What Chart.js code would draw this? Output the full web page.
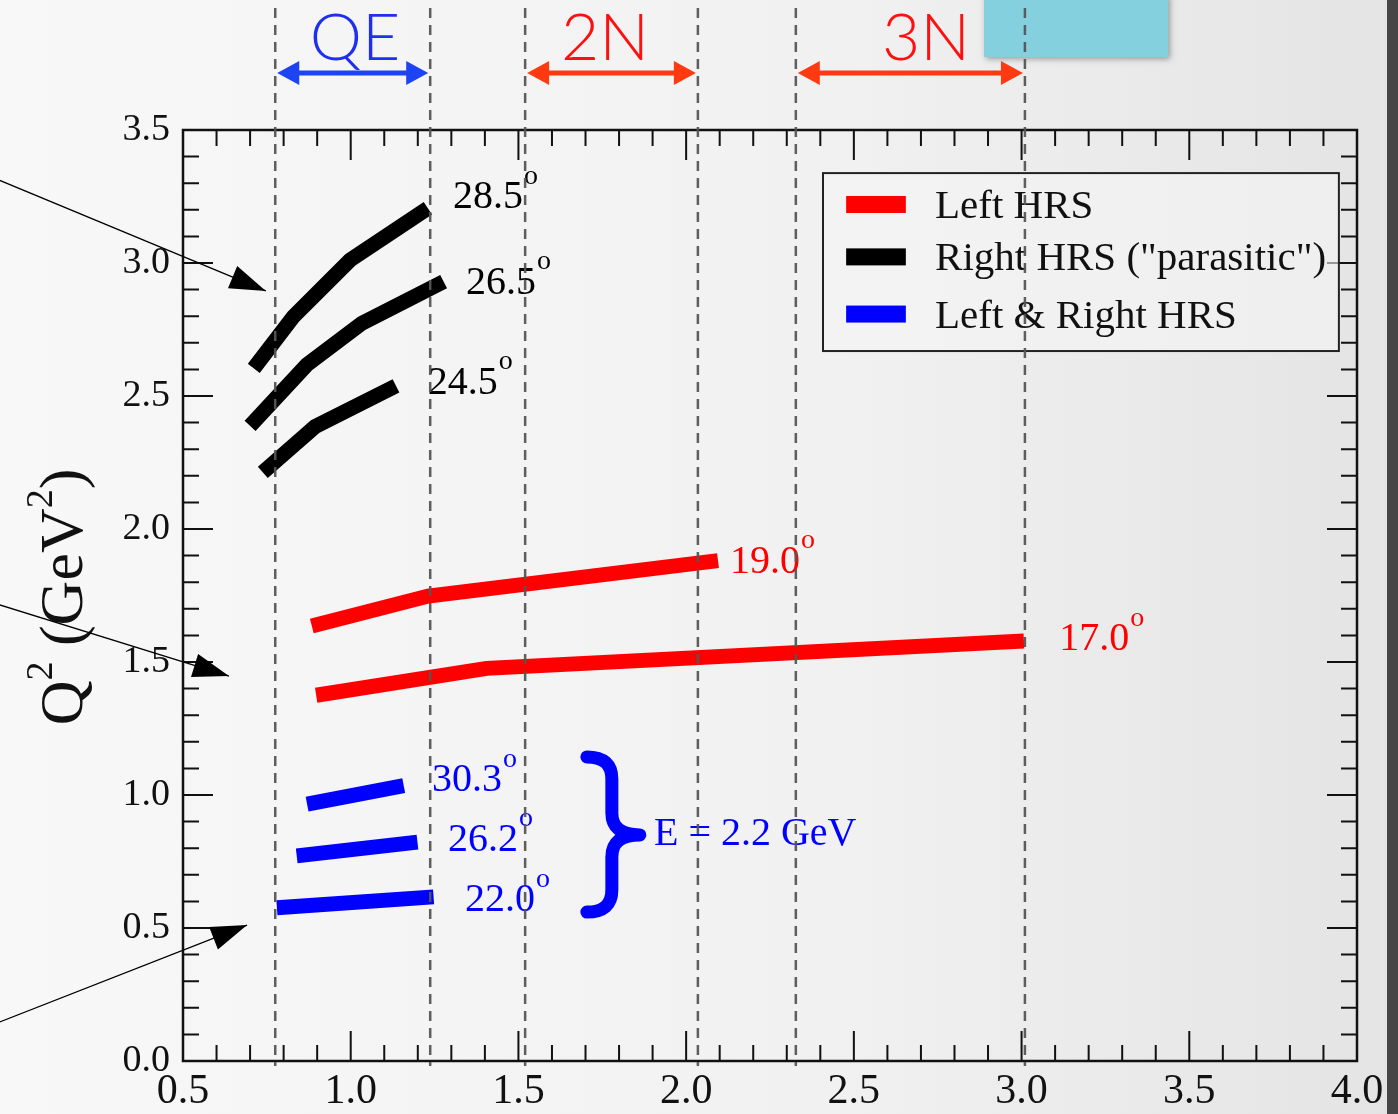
<!DOCTYPE html>
<html>
<head>
<meta charset="utf-8">
<script src="https://cdn.jsdelivr.net/npm/chart.js@4.4.0/dist/chart.umd.min.js"></script>
<style>
  html, body { margin: 0; padding: 0; overflow: hidden; }
  #wrap { width: 1398px; height: 1114px; }
</style>
</head>
<body>
<div id="wrap"><canvas id="q2chart"></canvas></div>
<script>
// kinematic coverage, one array per spectrometer angle: [x, Q2]
const leftHrs190 = [[0.884, 1.635], [1.231, 1.748], [2.095, 1.881]];
const leftHrs170 = [[0.897, 1.375], [1.405, 1.476], [3.007, 1.579]];
const rightHrs285 = [[0.711, 2.604], [0.829, 2.798], [0.998, 3.011], [1.230, 3.206]];
const rightHrs265 = [[0.700, 2.388], [0.869, 2.617], [1.033, 2.773], [1.277, 2.930]];
const rightHrs245 = [[0.738, 2.213], [0.894, 2.385], [1.135, 2.538]];
const bothHrs303 = [[0.870, 0.966], [1.158, 1.035]];
const bothHrs262 = [[0.839, 0.771], [1.199, 0.823]];
const bothHrs220 = [[0.780, 0.576], [1.247, 0.617]];

const xTicks = [0.5, 1.0, 1.5, 2.0, 2.5, 3.0, 3.5, 4.0];
const yTicks = [0.0, 0.5, 1.0, 1.5, 2.0, 2.5, 3.0, 3.5];

// x boundaries of the QE / 2N / 3N regions
const regionEdges = [0.775, 1.237, 1.52, 2.035, 2.327, 3.01];
const regionNames = ["QE", "2N", "3N"];

const legendNames = ["Left HRS", "Right HRS (\"parasitic\")", "Left & Right HRS"];
const RED = "#ff0000", BLACK = "#000000", BLUE = "#0000ff";
const legendColors = [RED, BLACK, BLUE];

// label text, position in data units, colour
const angleLabels = [
  ["28.5", 1.305, 3.256, BLACK],
  ["26.5", 1.344, 2.936, BLACK],
  ["24.5", 1.230, 2.560, BLACK],
  ["19.0", 2.131, 1.887, RED],
  ["17.0", 3.112, 1.594, RED],
  ["30.3", 1.242, 1.064, BLUE],
  ["26.2", 1.290, 0.842, BLUE],
  ["22.0", 1.341, 0.613, BLUE],
];

const SERIF = "'Liberation Serif', 'Times New Roman', serif";

function series(points, color) {
  return {
    data: points.map(p => ({ x: p[0], y: p[1] })),
    borderColor: color,
    backgroundColor: color,
    borderWidth: 15,
    borderCapStyle: "butt",
    borderJoinStyle: "miter",
    pointRadius: 0,
    showLine: true,
    tension: 0,
  };
}

function arrowHead(ctx, x1, y1, x2, y2, len, half) {
  const a = Math.atan2(y2 - y1, x2 - x1);
  ctx.beginPath();
  ctx.moveTo(x2, y2);
  ctx.lineTo(x2 - len * Math.cos(a) + half * Math.sin(a), y2 - len * Math.sin(a) - half * Math.cos(a));
  ctx.lineTo(x2 - len * Math.cos(a) - half * Math.sin(a), y2 - len * Math.sin(a) + half * Math.cos(a));
  ctx.closePath();
  ctx.fill();
}

function degreeText(ctx, text, x, cy, color) {
  ctx.fillStyle = color;
  ctx.textAlign = "left";
  ctx.textBaseline = "alphabetic";
  ctx.font = "40px " + SERIF;
  ctx.fillText(text, x, cy + 13.5);
  const w = ctx.measureText(text).width;
  ctx.font = "28px " + SERIF;
  ctx.fillText("o", x + w + 1, cy - 11);
}

const decor = {
  id: "decor",
  beforeDraw(chart) {
    const { ctx, scales: { x, y } } = chart;
    ctx.save();
    const g = ctx.createLinearGradient(0, 0, 1386, 0);
    g.addColorStop(0, "#f8f8f8");
    g.addColorStop(0.6, "#f1f1f1");
    g.addColorStop(1, "#e4e4e4");
    ctx.fillStyle = g;
    ctx.fillRect(0, 0, chart.width, chart.height);
    ctx.fillStyle = "#454545";
    ctx.fillRect(1387, 0, chart.width - 1387, chart.height);

    // cyan box at top
    ctx.shadowColor = "rgba(0,0,0,0.35)";
    ctx.shadowBlur = 6;
    ctx.shadowOffsetX = 2;
    ctx.shadowOffsetY = 2;
    ctx.fillStyle = "#84d0de";
    const bx = x.getPixelForValue(2.888), bx2 = x.getPixelForValue(3.437);
    ctx.fillRect(bx, -5, bx2 - bx, y.getPixelForValue(3.774) + 5);
    ctx.restore();
  },
  afterDraw(chart) {
    const { ctx, chartArea: a, scales: { x, y } } = chart;
    ctx.save();

    // frame
    ctx.strokeStyle = "#111";
    ctx.lineWidth = 2.5;
    ctx.strokeRect(a.left, a.top, a.right - a.left, a.bottom - a.top);

    // inner ticks on all sides
    ctx.lineWidth = 2;
    ctx.beginPath();
    for (let i = 5; i <= 40; i++) {
      const px = x.getPixelForValue(i / 10);
      const len = i % 5 === 0 ? 30 : 16;
      ctx.moveTo(px, a.bottom); ctx.lineTo(px, a.bottom - len);
      ctx.moveTo(px, a.top); ctx.lineTo(px, a.top + len);
    }
    for (let i = 0; i <= 35; i++) {
      const py = y.getPixelForValue(i / 10);
      const len = i % 5 === 0 ? 30 : 16;
      ctx.moveTo(a.left, py); ctx.lineTo(a.left + len, py);
      ctx.moveTo(a.right, py); ctx.lineTo(a.right - len, py);
    }
    ctx.stroke();

    // y axis title
    ctx.save();
    ctx.translate(82, 597);
    ctx.rotate(-Math.PI / 2);
    ctx.fillStyle = "#111";
    ctx.textBaseline = "alphabetic";
    ctx.textAlign = "left";
    const parts = [["Q", 62, 0], ["2", 38, -30], [" (GeV", 62, 0], ["2", 38, -30], [")", 62, 0]];
    let total = 0;
    parts.forEach(p => { ctx.font = p[1] + "px " + SERIF; total += ctx.measureText(p[0]).width; });
    let tx = -total / 2;
    parts.forEach(p => {
      ctx.font = p[1] + "px " + SERIF;
      ctx.fillText(p[0], tx, p[2]);
      tx += ctx.measureText(p[0]).width;
    });
    ctx.restore();

    // legend box
    const lx = x.getPixelForValue(2.408), lx2 = x.getPixelForValue(3.946);
    const ly = y.getPixelForValue(3.338), ly2 = y.getPixelForValue(2.669);
    ctx.fillStyle = "rgba(245,245,245,0.6)";
    ctx.fillRect(lx, ly, lx2 - lx, ly2 - ly);
    ctx.strokeStyle = "#222";
    ctx.lineWidth = 2;
    ctx.strokeRect(lx, ly, lx2 - lx, ly2 - ly);
    const rowY = [3.220, 3.023, 2.808];
    legendNames.forEach((name, i) => {
      const cy = y.getPixelForValue(rowY[i]);
      const sx = x.getPixelForValue(2.477), sx2 = x.getPixelForValue(2.655);
      ctx.fillStyle = legendColors[i];
      ctx.fillRect(sx, cy - 8.5, sx2 - sx, 17);
      ctx.fillStyle = "#111";
      ctx.font = "41px " + SERIF;
      ctx.textAlign = "left";
      ctx.textBaseline = "alphabetic";
      ctx.fillText(name, x.getPixelForValue(2.742), cy + 13.5);
    });

    // angle labels
    angleLabels.forEach(l => degreeText(ctx, l[0], x.getPixelForValue(l[1]), y.getPixelForValue(l[2]), l[3]));

    // brace and beam energy
    const b0 = x.getPixelForValue(1.704), bm = b0 + 25, bt = x.getPixelForValue(1.862);
    const yTop = y.getPixelForValue(1.143), yMid = y.getPixelForValue(0.850), yBot = y.getPixelForValue(0.560);
    ctx.strokeStyle = BLUE;
    ctx.lineWidth = 13;
    ctx.lineCap = "round";
    ctx.lineJoin = "round";
    ctx.beginPath();
    ctx.moveTo(b0, yTop);
    ctx.quadraticCurveTo(bm, yTop, bm, yTop + 22);
    ctx.lineTo(bm, yMid - 22);
    ctx.quadraticCurveTo(bm, yMid, bt, yMid);
    ctx.quadraticCurveTo(bm, yMid, bm, yMid + 22);
    ctx.lineTo(bm, yBot - 22);
    ctx.quadraticCurveTo(bm, yBot, b0, yBot);
    ctx.stroke();
    ctx.fillStyle = BLUE;
    ctx.font = "40px " + SERIF;
    ctx.textAlign = "left";
    ctx.textBaseline = "alphabetic";
    ctx.fillText("E = 2.2 GeV", x.getPixelForValue(1.904), y.getPixelForValue(0.861) + 13.5);

    // thin pointer arrows from the left margin
    const pointers = [[-0.06, 3.318, 0.747, 2.895], [-0.06, 1.720, 0.637, 1.447], [-0.06, 0.140, 0.691, 0.511]];
    ctx.strokeStyle = "#000";
    ctx.fillStyle = "#000";
    ctx.lineWidth = 1.3;
    ctx.lineCap = "butt";
    pointers.forEach(p => {
      const x1 = x.getPixelForValue(p[0]), y1 = y.getPixelForValue(p[1]);
      const x2 = x.getPixelForValue(p[2]), y2 = y.getPixelForValue(p[3]);
      ctx.beginPath();
      ctx.moveTo(x1, y1);
      ctx.lineTo(x2, y2);
      ctx.stroke();
      arrowHead(ctx, x1, y1, x2, y2, 36, 12);
    });

    // region arrows and names above the frame
    const ay = y.getPixelForValue(3.714);
    const regionColors = [["#1d44f2", "#1f2ff0"], ["#ff3a10", "#ff1010"], ["#ff3a10", "#ff1010"]];
    const nameX = [1.013, 1.758, 2.715];
    regionNames.forEach((name, i) => {
      const xa = x.getPixelForValue(regionEdges[2 * i]) + 2;
      const xb = x.getPixelForValue(regionEdges[2 * i + 1]) - 2;
      ctx.strokeStyle = regionColors[i][0];
      ctx.fillStyle = regionColors[i][0];
      ctx.lineWidth = 5;
      ctx.beginPath();
      ctx.moveTo(xa + 18, ay);
      ctx.lineTo(xb - 18, ay);
      ctx.stroke();
      arrowHead(ctx, xb, ay, xa, ay, 22, 12);
      arrowHead(ctx, xa, ay, xb, ay, 22, 12);
      ctx.fillStyle = regionColors[i][1];
      ctx.font = "300 66px Lato, 'Open Sans', sans-serif";
      ctx.textAlign = "center";
      ctx.textBaseline = "alphabetic";
      ctx.fillText(name, x.getPixelForValue(nameX[i]), 60);
    });

    // dashed region boundaries
    ctx.strokeStyle = "rgba(85,85,85,0.95)";
    ctx.lineWidth = 2.5;
    ctx.setLineDash([10, 7]);
    regionEdges.forEach(v => {
      const px = x.getPixelForValue(v);
      ctx.beginPath();
      ctx.moveTo(px, y.getPixelForValue(3.959));
      ctx.lineTo(px, y.getPixelForValue(-0.019));
      ctx.stroke();
    });
    ctx.restore();
  },
};

new Chart(document.getElementById("q2chart"), {
  type: "scatter",
  data: {
    datasets: [
      series(leftHrs190, RED),
      series(leftHrs170, RED),
      series(rightHrs285, BLACK),
      series(rightHrs265, BLACK),
      series(rightHrs245, BLACK),
      series(bothHrs303, BLUE),
      series(bothHrs262, BLUE),
      series(bothHrs220, BLUE),
    ],
  },
  options: {
    responsive: true,
    maintainAspectRatio: false,
    animation: false,
    layout: { padding: { top: 130, right: 41, left: 0, bottom: 0 } },
    plugins: {
      legend: { display: false },
      tooltip: { enabled: false },
    },
    scales: {
      x: {
        type: "linear",
        min: 0.5,
        max: 4.0,
        grid: { display: false, drawTicks: false },
        border: { display: false },
        afterBuildTicks: (s) => { s.ticks = xTicks.map(v => ({ value: v })); },
        afterFit: (s) => { s.height = 53; },
        ticks: {
          callback: (v) => v.toFixed(1),
          autoSkip: false,
          maxRotation: 0,
          padding: 6,
          color: "#111",
          font: { family: SERIF, size: 42 },
        },
      },
      y: {
        type: "linear",
        min: 0,
        max: 3.5,
        grid: { display: false, drawTicks: false },
        border: { display: false },
        afterBuildTicks: (s) => { s.ticks = yTicks.map(v => ({ value: v })); },
        afterFit: (s) => { s.width = 183; },
        ticks: {
          callback: (v) => v.toFixed(1),
          autoSkip: false,
          padding: 13,
          color: "#111",
          font: { family: SERIF, size: 38 },
        },
      },
    },
  },
  plugins: [decor],
});
</script>
</body>
</html>
